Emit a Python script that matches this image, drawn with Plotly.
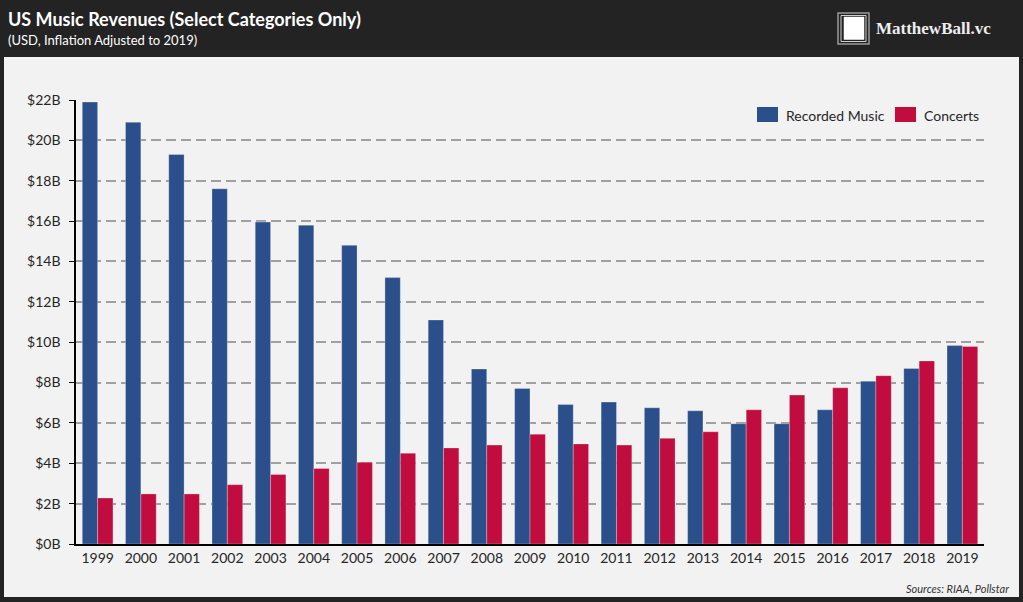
import plotly.graph_objects as go

years = [str(y) for y in range(1999, 2020)]
recorded_music = [21.9, 20.9, 19.3, 17.6, 15.95, 15.8, 14.8, 13.2, 11.1, 8.67, 7.71,
                  6.91, 7.03, 6.75, 6.6, 5.96, 5.96, 6.65, 8.07, 8.7, 9.83]
concerts = [2.28, 2.48, 2.48, 2.94, 3.44, 3.74, 4.05, 4.5, 4.76, 4.9, 5.44,
            4.96, 4.9, 5.24, 5.56, 6.65, 7.38, 7.74, 8.34, 9.07, 9.79]
y_tick_vals = [0, 2, 4, 6, 8, 10, 12, 14, 16, 18, 20, 22]
y_tick_labels = ["$0B", "$2B", "$4B", "$6B", "$8B", "$10B", "$12B", "$14B",
                 "$16B", "$18B", "$20B", "$22B"]

BLUE = "#2B4F8A"
RED = "#C00C3E"
DARK = "#232323"
PANEL = "#F2F2F2"
FONT = "Lato"

W, H = 1023, 602
L, R, T, B = 76, W - 984, 100, H - 544
PW, PH = W - L - R, H - T - B


def px(x):
    return (x - L) / PW


def py(y):
    return (H - B - y) / PH


fig = go.Figure()
fig.add_trace(go.Bar(x=years, y=recorded_music, name="Recorded Music",
                     marker=dict(color=BLUE, line=dict(color="rgba(255,255,255,0.35)", width=0.8))))
fig.add_trace(go.Bar(x=years, y=concerts, name="Concerts",
                     marker=dict(color=RED, line=dict(color="rgba(255,255,255,0.35)", width=0.8))))

shapes = [
    # light panel
    dict(type="rect", xref="paper", yref="paper", x0=px(4), x1=px(1019), y0=py(597), y1=py(57),
         fillcolor=PANEL, line=dict(width=0), layer="below"),
    # logo icon
    dict(type="rect", xref="paper", yref="paper", x0=px(838), x1=px(869), y0=py(44), y1=py(13),
         line=dict(color="#9a9a9a", width=1.5), fillcolor="rgba(0,0,0,0)"),
    dict(type="rect", xref="paper", yref="paper", x0=px(841), x1=px(866), y0=py(41.5), y1=py(15.5),
         line=dict(color="#cfcfcf", width=1), fillcolor="rgba(0,0,0,0)"),
    dict(type="rect", xref="paper", yref="paper", x0=px(844), x1=px(864), y0=py(39.5), y1=py(17),
         line=dict(color="#ffffff", width=0.5), fillcolor="#ffffff"),
    # legend swatches
    dict(type="rect", xref="paper", yref="paper", x0=px(757), x1=px(778), y0=py(122), y1=py(107),
         fillcolor=BLUE, line=dict(width=0)),
    dict(type="rect", xref="paper", yref="paper", x0=px(895), x1=px(916), y0=py(122), y1=py(107),
         fillcolor=RED, line=dict(width=0)),
]

annotations = [
    dict(text="<b>US Music Revenues (Select Categories Only)</b>", xref="paper", yref="paper",
         x=px(6), y=py(19), xanchor="left", yanchor="middle", showarrow=False,
         font=dict(family=FONT, size=18, color="#ffffff")),
    dict(text="(USD, Inflation Adjusted to 2019)", xref="paper", yref="paper",
         x=px(6), y=py(40), xanchor="left", yanchor="middle", showarrow=False,
         font=dict(family=FONT, size=13, color="#ffffff")),
    dict(text="<b>MatthewBall.vc</b>", xref="paper", yref="paper",
         x=px(874), y=py(29), xanchor="left", yanchor="middle", showarrow=False,
         font=dict(family="Liberation Serif", size=17, color="#eeeeee")),
    dict(text="Recorded Music", xref="paper", yref="paper",
         x=px(784), y=py(115), xanchor="left", yanchor="middle", showarrow=False,
         font=dict(family=FONT, size=14, color="#262626")),
    dict(text="Concerts", xref="paper", yref="paper",
         x=px(922), y=py(115), xanchor="left", yanchor="middle", showarrow=False,
         font=dict(family=FONT, size=14, color="#262626")),
    dict(text="<i>Sources: RIAA, Pollstar</i>", xref="paper", yref="paper",
         x=px(1011), y=py(588), xanchor="right", yanchor="middle", showarrow=False,
         font=dict(family=FONT, size=11, color="#333333")),
]

fig.update_layout(
    width=W, height=H,
    margin=dict(l=L, r=R, t=T, b=B, pad=0),
    paper_bgcolor=DARK,
    plot_bgcolor="rgba(0,0,0,0)",
    barmode="group", bargap=0.29, bargroupgap=0,
    showlegend=False,
    shapes=shapes, annotations=annotations,
    font=dict(family=FONT, size=14, color="#262626"),
    xaxis=dict(type="category", range=[-0.5, 20.5], showline=True, linecolor="#000000",
               linewidth=1.5, ticks="", showgrid=False,
               tickfont=dict(family=FONT, size=14, color="#262626")),
    yaxis=dict(range=[0, 22], tickvals=y_tick_vals, ticktext=y_tick_labels,
               showline=True, linecolor="#000000", linewidth=1.5,
               ticks="outside", ticklen=5, tickwidth=1.2, tickcolor="#000000",
               ticklabelstandoff=6,
               showgrid=True, gridcolor="#a0a0a0", gridwidth=1.5, griddash="10px,5px",
               zeroline=False,
               tickfont=dict(family=FONT, size=14, color="#262626")),
)

fig.write_html("out.html", config={"displayModeBar": False},
               post_script="document.body.style.margin='0px';document.body.style.background='%s';" % DARK)
